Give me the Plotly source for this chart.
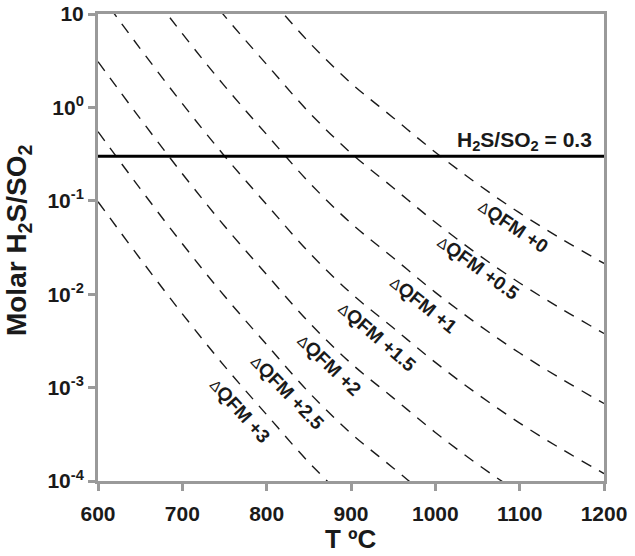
import plotly.graph_objects as go

# temperature grid (deg C) the curves were read at
T_C = [600, 650, 700, 750, 800, 850, 900, 950, 1000, 1050, 1100, 1150, 1200]

# log10(H2S/SO2) for each dQFM curve
QFM_0 = [3.49, 2.88, 2.29, 1.73, 1.21, 0.70, 0.26, -0.11, -0.48, -0.82, -1.13, -1.41, -1.67]
QFM_05 = [2.74, 2.13, 1.54, 0.98, 0.46, -0.05, -0.49, -0.86, -1.23, -1.57, -1.88, -2.16, -2.42]
QFM_1 = [1.99, 1.38, 0.79, 0.23, -0.29, -0.80, -1.24, -1.61, -1.98, -2.32, -2.63, -2.91, -3.17]
QFM_15 = [1.24, 0.63, 0.04, -0.52, -1.04, -1.55, -1.99, -2.36, -2.73, -3.07, -3.38, -3.66, -3.92]
QFM_2 = [0.49, -0.12, -0.71, -1.27, -1.79, -2.30, -2.74, -3.11, -3.48, -3.82, -4.13, -4.41, -4.67]
QFM_25 = [-0.26, -0.87, -1.46, -2.02, -2.54, -3.05, -3.49, -3.86, -4.23, -4.57, -4.88, -5.16, -5.42]
QFM_3 = [-1.01, -1.62, -2.21, -2.77, -3.29, -3.80, -4.24, -4.61, -4.98, -5.32, -5.63, -5.91, -6.17]

CURVES = [QFM_0, QFM_05, QFM_1, QFM_15, QFM_2, QFM_25, QFM_3]
LABELS = ["+0", "+0.5", "+1", "+1.5", "+2", "+2.5", "+3"]

RATIO_LINE = 0.3

Y_TICKVALS = [10, 1, 0.1, 0.01, 0.001, 0.0001]
Y_TICKTEXT = ["10", "10<sup>0</sup>", "10<sup>-1</sup>", "10<sup>-2</sup>",
              "10<sup>-3</sup>", "10<sup>-4</sup>"]
X_TICKVALS = [600, 700, 800, 900, 1000, 1100, 1200]

# label placement (T, log10 y, angle) - layout only
LABEL_POS = [
    (1093, -1.27, 34),
    (1051, -1.71, 36),
    (986, -2.11, 39),
    (931, -2.45, 41),
    (874, -2.75, 44),
    (825, -3.05, 46),
    (768, -3.25, 48),
]

FONT = "Liberation Sans, Arial, sans-serif"
AXIS_GRAY = "#9a9a9a"
INK = "#1a1a1a"

fig = go.Figure()

for vals in CURVES:
    fig.add_trace(go.Scatter(
        x=T_C,
        y=[10 ** v for v in vals],
        mode="lines",
        line=dict(color=INK, width=1.4, dash="11px,9px", shape="spline"),
        showlegend=False,
        hoverinfo="skip"
    ))

fig.add_trace(go.Scatter(
    x=[T_C[0], T_C[-1]],
    y=[RATIO_LINE, RATIO_LINE],
    mode="lines",
    line=dict(color="black", width=3),
    showlegend=False
))

for lab, (tx, ty, ang) in zip(LABELS, LABEL_POS):
    fig.add_annotation(
        x=tx, y=ty, xref="x", yref="y",
        text='<span style="font-weight:normal;font-size:15px">Δ</span>QFM ' + lab,
        textangle=ang,
        showarrow=False,
        font=dict(family=FONT, size=19, color=INK, weight="bold")
    )

fig.add_annotation(
    x=0.98, xref="paper", y=-0.523, yref="y",
    text="H<sub>2</sub>S/SO<sub>2</sub> = 0.3",
    xanchor="right", yanchor="bottom", yshift=0,
    showarrow=False,
    font=dict(family=FONT, size=21, color=INK, weight="bold")
)

# axis titles as annotations so they sit where the reference has them
fig.add_annotation(
    x=0.5, xref="paper", y=-0.124, yref="paper",
    text="T ºC", showarrow=False, xanchor="center", yanchor="middle",
    borderpad=0,
    font=dict(family=FONT, size=26, color=INK, weight="bold")
)
fig.add_annotation(
    x=-0.158, xref="paper", y=0.516, yref="paper",
    text="Molar H<sub>2</sub>S/SO<sub>2</sub>", textangle=-90,
    showarrow=False, xanchor="center", yanchor="middle",
    font=dict(family=FONT, size=28, color=INK, weight="bold")
)

fig.update_layout(
    width=635,
    height=556,
    plot_bgcolor="white",
    paper_bgcolor="white",
    margin=dict(l=98, r=31, t=14, b=75),
    font=dict(family=FONT, size=18, color=INK),
    showlegend=False
)

fig.update_xaxes(
    range=[600, 1200],
    tickvals=X_TICKVALS,
    tickfont=dict(family=FONT, size=21, weight="bold", color=INK),
    ticks="outside", ticklen=7, tickwidth=3, tickcolor=AXIS_GRAY,
    ticklabelstandoff=5, ticklabeloverflow="allow",
    showline=True, linewidth=3, linecolor=AXIS_GRAY, mirror=True,
    showgrid=False, zeroline=False, automargin=False
)

fig.update_yaxes(
    type="log",
    range=[-4, 1],
    tickvals=Y_TICKVALS,
    ticktext=Y_TICKTEXT,
    tickfont=dict(family=FONT, size=21, weight="bold", color=INK),
    ticks="outside", ticklen=7, tickwidth=3, tickcolor=AXIS_GRAY,
    ticklabeloverflow="allow",
    showline=True, linewidth=3, linecolor=AXIS_GRAY, mirror=True,
    showgrid=False, zeroline=False, automargin=False
)

# drop the default 8px body margin so the figure sits at the window corner
fig.write_html("out.html", config={"displayModeBar": False},
               post_script="document.body.style.margin='0';")
